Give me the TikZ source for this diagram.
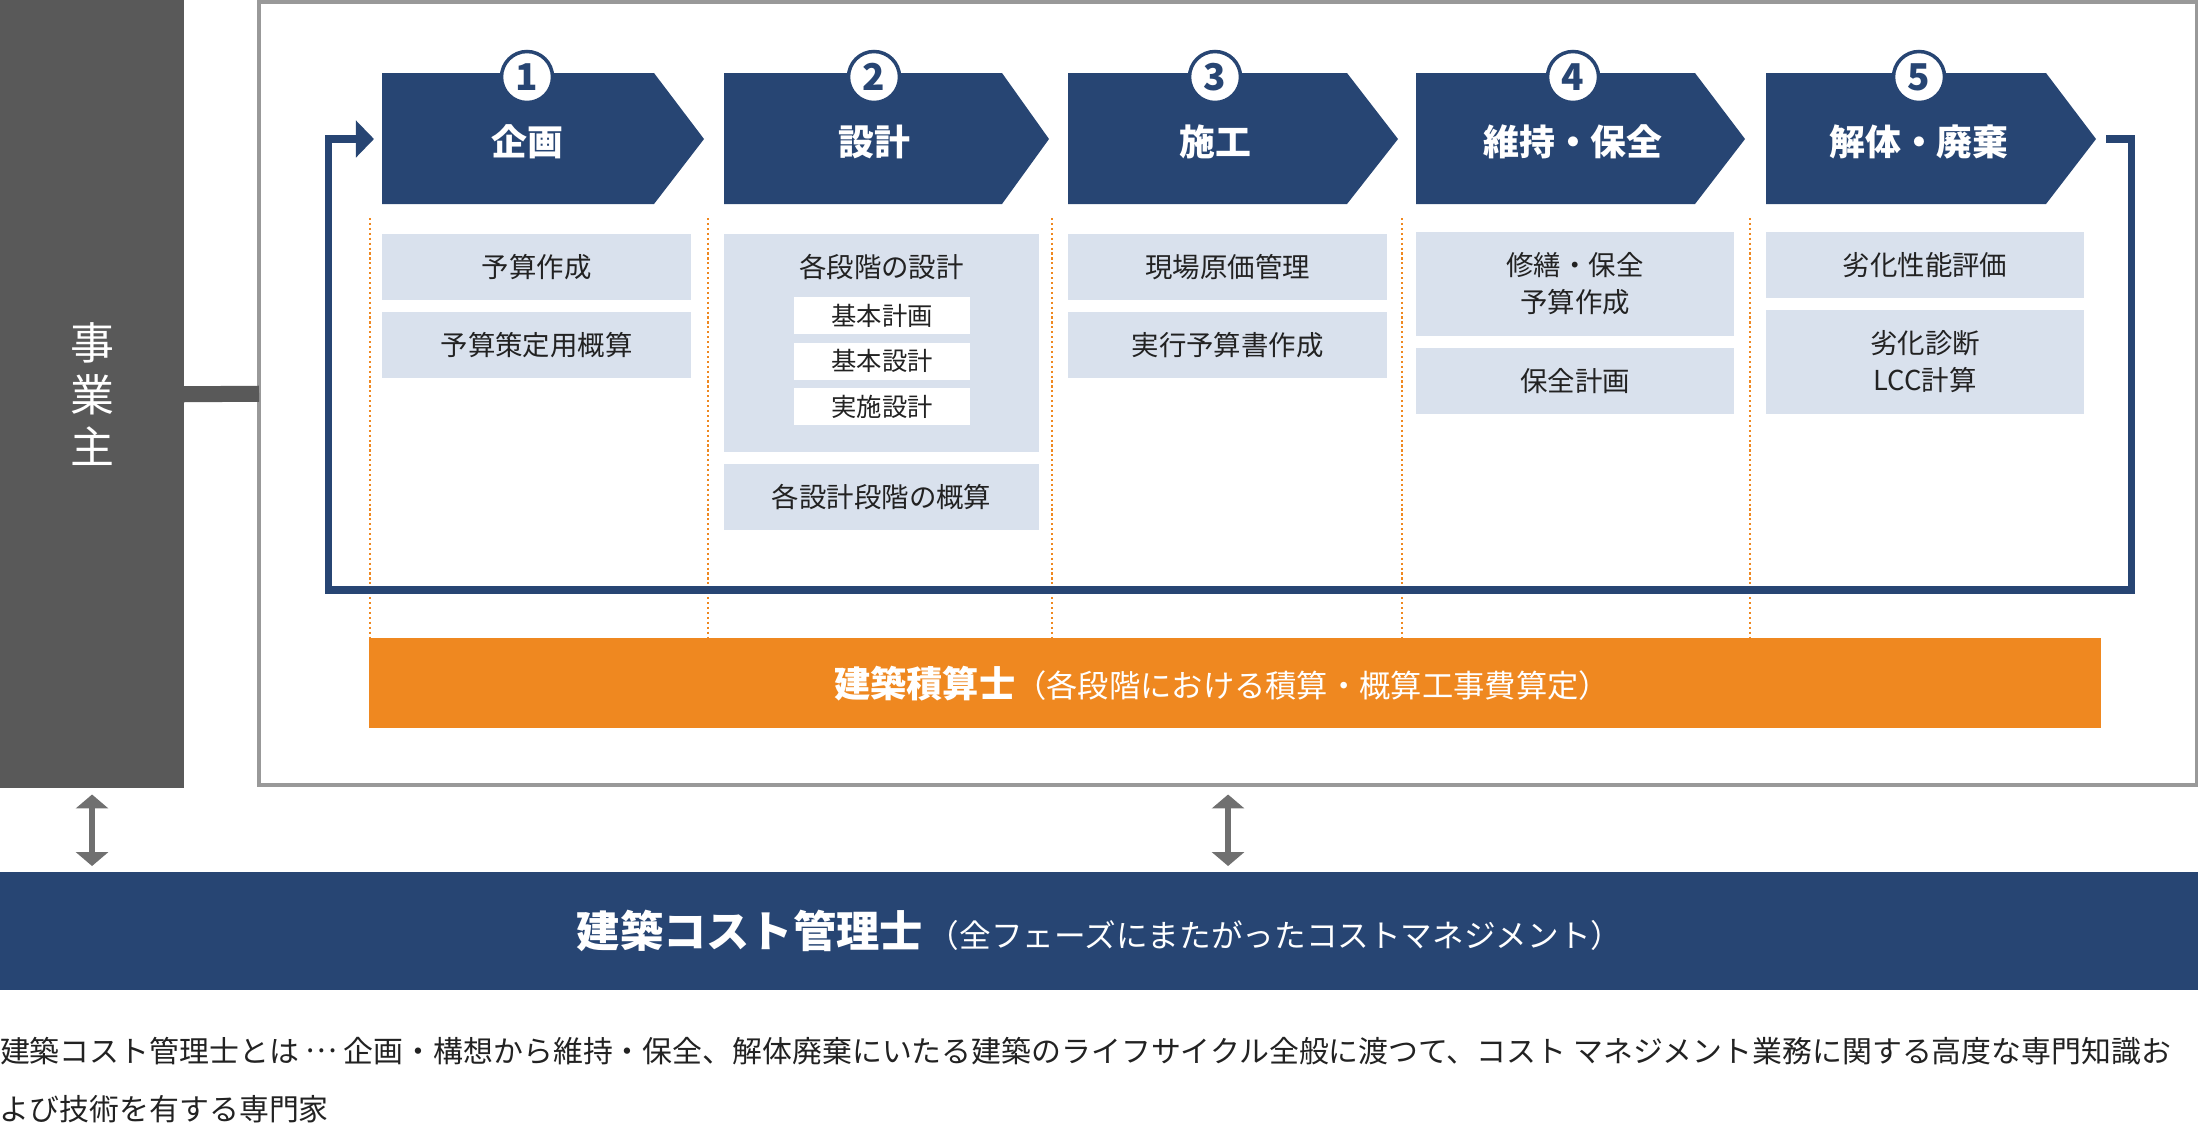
\documentclass[tikz,border=0pt]{standalone}
\usepackage{fontspec}
\setmainfont{Noto Sans CJK JP}
\usetikzlibrary{arrows.meta}
\definecolor{navy}{RGB}{39,69,115}
\definecolor{paleblue}{RGB}{217,225,237}
\definecolor{costorange}{RGB}{239,136,32}
\definecolor{ownergray}{RGB}{89,89,89}
\definecolor{arrowgray}{RGB}{112,112,112}
\definecolor{framegray}{RGB}{153,153,153}
\definecolor{ink}{RGB}{34,34,34}

\begin{document}
\begin{tikzpicture}[x=0.01cm,y=-0.01cm]
						\useasboundingbox (0,0) rectangle (2198,1126);
						\tikzstyle{every node}=[inner sep=0pt,outer sep=0pt];
						\tikzstyle{item}=[fill=paleblue,text=ink,align=center,anchor=north west,font=\fontsize{7.8}{10.5}\selectfont];
						\tikzstyle{sub}=[fill=white,text=ink,anchor=north west,minimum width=1.76cm,minimum height=0.37cm,font=\fontsize{7.2}{9}\selectfont];
						\tikzstyle{phase}=[text=white,font=\bfseries\fontsize{10.2}{12}\selectfont];
						\tikzstyle{num}=[circle,draw=navy,fill=white,line width=1pt,minimum size=0.51cm,text=navy,font=\bfseries\fontsize{10.5}{12}\selectfont];
						\tikzstyle{seam}=[draw=costorange,line width=0.6pt,dash pattern=on 0.6pt off 0.8pt];
						\tikzstyle{loopline}=[draw=navy,line width=0.073cm,-{Triangle[length=0.18cm,width=0.36cm]}];
						\tikzstyle{dblarrow}=[draw=arrowgray,line width=0.067cm,{Triangle[length=0.14cm,width=0.32cm]}-{Triangle[length=0.14cm,width=0.32cm]}];
						\node[fill=ownergray,minimum width=1.84cm,minimum height=7.88cm,anchor=north west,text=white,align=center,font=\fontsize{12.5}{14.8}\selectfont] (owner) at (0,0) {事\\業\\主};
						\node[draw=framegray,line width=0.04cm,minimum width=19.37cm,minimum height=7.83cm,anchor=north west] (frame) at (259,2) {};
						\draw[draw=ownergray,line width=0.16cm] (owner.east) -- (frame.west);
						\draw[seam] (370,218) -- (370,638);
						\draw[seam] (708,218) -- (708,638);
						\draw[seam] (1052,218) -- (1052,638);
						\draw[seam] (1402,218) -- (1402,638);
						\draw[seam] (1750,218) -- (1750,638);
						\fill[navy] (382,73) -- (654,73) -- (704,139) -- (654,204) -- (382,204) -- cycle;
						\fill[navy] (724,73) -- (1002,73) -- (1049,139) -- (1002,204) -- (724,204) -- cycle;
						\fill[navy] (1068,73) -- (1347,73) -- (1398,139) -- (1347,204) -- (1068,204) -- cycle;
						\fill[navy] (1416,73) -- (1695,73) -- (1745,139) -- (1695,204) -- (1416,204) -- cycle;
						\fill[navy] (1766,73) -- (2046,73) -- (2096,139) -- (2046,204) -- (1766,204) -- cycle;
						\coordinate (s1) at (382,139);
						\coordinate (t5) at (2096,139);
						\draw[loopline,shorten <=0.1cm,shorten >=0.08cm] (t5) -- (2131.5,139) -- (2131.5,590) -- (328.7,590) -- (328.7,139) -- (s1);
						\path (527,77) node[num] (n1) {1};
						\path (874,77) node[num] (n2) {2};
						\path (1215,77) node[num] (n3) {3};
						\path (1573,77) node[num] (n4) {4};
						\path (1919,77) node[num] (n5) {5};
						\path (527,142) node[phase] (c1) {企画};
						\path (874,142) node[phase] (c2) {設計};
						\path (1215,142) node[phase] (c3) {施工};
						\path (1573,142) node[phase] (c4) {維持・保全};
						\path (1919,142) node[phase] (c5) {解体・廃棄};
						\node[item,minimum width=3.09cm,minimum height=0.66cm] (b11) at (382,234) {予算作成};
						\node[item,minimum width=3.09cm,minimum height=0.66cm] (b12) at (382,312) {予算策定用概算};
						\node[item,minimum width=3.15cm,minimum height=2.18cm] (b21) at (724,234) {};
						\path (881.5,267) node[text=ink,font=\fontsize{7.8}{10.5}\selectfont] (t21) {各段階の設計};
						\node[sub] (d1) at (794,297) {基本計画};
						\node[sub] (d2) at (794,342.5) {基本設計};
						\node[sub] (d3) at (794,388) {実施設計};
						\node[item,minimum width=3.15cm,minimum height=0.66cm] (b22) at (724,464) {各設計段階の概算};
						\node[item,minimum width=3.19cm,minimum height=0.66cm] (b31) at (1068,234) {現場原価管理};
						\node[item,minimum width=3.19cm,minimum height=0.66cm] (b32) at (1068,312) {実行予算書作成};
						\node[item,minimum width=3.18cm,minimum height=1.04cm] (b41) at (1416,232) {修繕・保全\\予算作成};
						\node[item,minimum width=3.18cm,minimum height=0.66cm] (b42) at (1416,348) {保全計画};
						\node[item,minimum width=3.18cm,minimum height=0.66cm] (b51) at (1766,232) {劣化性能評価};
						\node[item,minimum width=3.18cm,minimum height=1.04cm] (b52) at (1766,310) {劣化診断\\LCC計算};
						\node[fill=costorange,minimum width=17.31cm,minimum height=0.9cm,anchor=north west] (est) at (369,638) {};
						\path (1222,684) node[text=white] (v0) {{\bfseries\fontsize{10.3}{12}\selectfont 建築積算士}{\fontsize{8.9}{12}\selectfont （各段階における積算・概算工事費算定）}};
						\node[fill=navy,minimum width=21.98cm,minimum height=1.18cm,anchor=north west,text=white] (cm) at (0,872) {{\bfseries\fontsize{12.3}{14}\selectfont 建築コスト管理士}\hspace{0.05cm}{\fontsize{9}{12}\selectfont （全フェーズにまたがったコストマネジメント）}};
						\draw[dblarrow,shorten <=0.06cm,shorten >=0.06cm] (owner.south) -- (owner.south |- cm.north);
						\draw[dblarrow,shorten <=0.09cm,shorten >=0.06cm] (frame.south) -- (frame.south |- cm.north);
						\node[anchor=west,align=left,text=ink,font=\fontsize{8.5}{16.5}\selectfont] (note) at (0,1080) {建築コスト管理士とは \raisebox{0.32em}{…} 企画・構想から維持・保全、解体廃棄にいたる建築のライフサイクル全般に渡つて、コスト マネジメント業務に関する高度な専門知識お\\よび技術を有する専門家};
					\end{tikzpicture}
\end{document}
